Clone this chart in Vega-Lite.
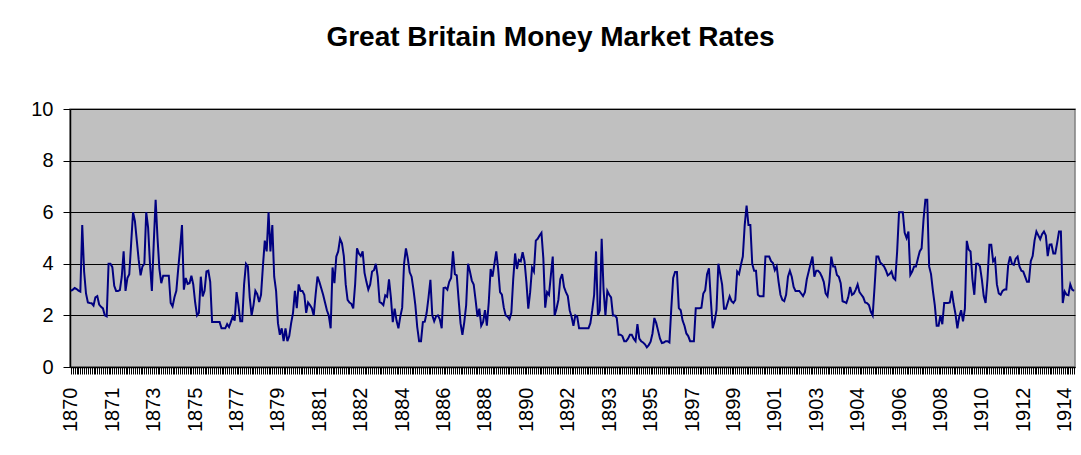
{
  "$schema": "https://vega.github.io/schema/vega-lite/v6.json",
  "autosize": {"type": "none"},
  "width": 1005,
  "height": 258,
  "padding": {"left": 70, "top": 109, "right": 6, "bottom": 88},
  "background": "#ffffff",
  "title": {
    "text": "Great Britain Money Market Rates",
    "font": "Liberation Sans",
    "fontSize": 28,
    "fontWeight": "bold",
    "color": "#000000",
    "anchor": "middle",
    "dx": -22,
    "offset": 47
  },
  "data": {
    "values": [
      {"m":"1870-01","r":2.95},{"m":"1870-02","r":3.0},{"m":"1870-03","r":3.06},{"m":"1870-04","r":3.02},{"m":"1870-05","r":2.96},{"m":"1870-06","r":2.92},{"m":"1870-07","r":5.5},{"m":"1870-08","r":3.7},{"m":"1870-09","r":2.85},{"m":"1870-10","r":2.5},{"m":"1870-11","r":2.48},{"m":"1870-12","r":2.47},
      {"m":"1871-01","r":2.38},{"m":"1871-02","r":2.7},{"m":"1871-03","r":2.75},{"m":"1871-04","r":2.42},{"m":"1871-05","r":2.33},{"m":"1871-06","r":2.27},{"m":"1871-07","r":2.0},{"m":"1871-08","r":1.96},{"m":"1871-09","r":4.0},{"m":"1871-10","r":4.0},{"m":"1871-11","r":3.87},{"m":"1871-12","r":3.15},
      {"m":"1872-01","r":2.95},{"m":"1872-02","r":2.95},{"m":"1872-03","r":2.98},{"m":"1872-04","r":3.5},{"m":"1872-05","r":4.48},{"m":"1872-06","r":2.95},{"m":"1872-07","r":3.45},{"m":"1872-08","r":3.6},{"m":"1872-09","r":4.8},{"m":"1872-10","r":6.0},{"m":"1872-11","r":5.65},{"m":"1872-12","r":4.9},
      {"m":"1873-01","r":4.15},{"m":"1873-02","r":3.55},{"m":"1873-03","r":3.9},{"m":"1873-04","r":4.0},{"m":"1873-05","r":6.0},{"m":"1873-06","r":5.4},{"m":"1873-07","r":4.0},{"m":"1873-08","r":2.95},{"m":"1873-09","r":4.8},{"m":"1873-10","r":6.48},{"m":"1873-11","r":5.0},{"m":"1873-12","r":3.8},
      {"m":"1874-01","r":3.25},{"m":"1874-02","r":3.54},{"m":"1874-03","r":3.54},{"m":"1874-04","r":3.54},{"m":"1874-05","r":3.54},{"m":"1874-06","r":2.48},{"m":"1874-07","r":2.35},{"m":"1874-08","r":2.7},{"m":"1874-09","r":2.95},{"m":"1874-10","r":3.8},{"m":"1874-11","r":4.6},{"m":"1874-12","r":5.5},
      {"m":"1875-01","r":3.0},{"m":"1875-02","r":3.45},{"m":"1875-03","r":3.22},{"m":"1875-04","r":3.25},{"m":"1875-05","r":3.54},{"m":"1875-06","r":3.2},{"m":"1875-07","r":2.5},{"m":"1875-08","r":2.0},{"m":"1875-09","r":2.1},{"m":"1875-10","r":3.5},{"m":"1875-11","r":2.74},{"m":"1875-12","r":2.95},
      {"m":"1876-01","r":3.7},{"m":"1876-02","r":3.73},{"m":"1876-03","r":3.3},{"m":"1876-04","r":1.74},{"m":"1876-05","r":1.74},{"m":"1876-06","r":1.74},{"m":"1876-07","r":1.74},{"m":"1876-08","r":1.74},{"m":"1876-09","r":1.5},{"m":"1876-10","r":1.5},{"m":"1876-11","r":1.5},{"m":"1876-12","r":1.66},
      {"m":"1877-01","r":1.55},{"m":"1877-02","r":1.75},{"m":"1877-03","r":1.96},{"m":"1877-04","r":1.8},{"m":"1877-05","r":2.9},{"m":"1877-06","r":2.4},{"m":"1877-07","r":1.77},{"m":"1877-08","r":1.77},{"m":"1877-09","r":3.2},{"m":"1877-10","r":4.0},{"m":"1877-11","r":3.9},{"m":"1877-12","r":2.7},
      {"m":"1878-01","r":2.0},{"m":"1878-02","r":2.4},{"m":"1878-03","r":2.95},{"m":"1878-04","r":2.82},{"m":"1878-05","r":2.52},{"m":"1878-06","r":2.8},{"m":"1878-07","r":3.9},{"m":"1878-08","r":4.9},{"m":"1878-09","r":4.48},{"m":"1878-10","r":6.0},{"m":"1878-11","r":4.48},{"m":"1878-12","r":5.5},
      {"m":"1879-01","r":3.5},{"m":"1879-02","r":2.95},{"m":"1879-03","r":1.7},{"m":"1879-04","r":1.25},{"m":"1879-05","r":1.5},{"m":"1879-06","r":1.0},{"m":"1879-07","r":1.5},{"m":"1879-08","r":1.0},{"m":"1879-09","r":1.2},{"m":"1879-10","r":1.7},{"m":"1879-11","r":2.1},{"m":"1879-12","r":2.95},
      {"m":"1880-01","r":2.28},{"m":"1880-02","r":3.2},{"m":"1880-03","r":2.95},{"m":"1880-04","r":2.95},{"m":"1880-05","r":2.8},{"m":"1880-06","r":2.1},{"m":"1880-07","r":2.5},{"m":"1880-08","r":2.4},{"m":"1880-09","r":2.28},{"m":"1880-10","r":2.0},{"m":"1880-11","r":2.8},{"m":"1880-12","r":3.5},
      {"m":"1881-01","r":3.3},{"m":"1881-02","r":3.05},{"m":"1881-03","r":2.8},{"m":"1881-04","r":2.5},{"m":"1881-05","r":2.2},{"m":"1881-06","r":2.0},{"m":"1881-07","r":1.5},{"m":"1881-08","r":3.86},{"m":"1881-09","r":3.25},{"m":"1881-10","r":4.28},{"m":"1881-11","r":4.48},{"m":"1881-12","r":4.97},
      {"m":"1882-01","r":4.8},{"m":"1882-02","r":4.3},{"m":"1882-03","r":3.2},{"m":"1882-04","r":2.6},{"m":"1882-05","r":2.5},{"m":"1882-06","r":2.45},{"m":"1882-07","r":2.27},{"m":"1882-08","r":3.2},{"m":"1882-09","r":4.6},{"m":"1882-10","r":4.4},{"m":"1882-11","r":4.3},{"m":"1882-12","r":4.48},
      {"m":"1883-01","r":3.65},{"m":"1883-02","r":3.3},{"m":"1883-03","r":3.0},{"m":"1883-04","r":3.2},{"m":"1883-05","r":3.7},{"m":"1883-06","r":3.75},{"m":"1883-07","r":4.0},{"m":"1883-08","r":3.5},{"m":"1883-09","r":2.52},{"m":"1883-10","r":2.48},{"m":"1883-11","r":2.4},{"m":"1883-12","r":2.78},
      {"m":"1884-01","r":2.72},{"m":"1884-02","r":3.4},{"m":"1884-03","r":2.7},{"m":"1884-04","r":1.74},{"m":"1884-05","r":2.26},{"m":"1884-06","r":1.8},{"m":"1884-07","r":1.5},{"m":"1884-08","r":1.95},{"m":"1884-09","r":2.3},{"m":"1884-10","r":4.0},{"m":"1884-11","r":4.6},{"m":"1884-12","r":4.2},
      {"m":"1885-01","r":3.67},{"m":"1885-02","r":3.5},{"m":"1885-03","r":3.0},{"m":"1885-04","r":2.4},{"m":"1885-05","r":1.55},{"m":"1885-06","r":1.0},{"m":"1885-07","r":1.0},{"m":"1885-08","r":1.74},{"m":"1885-09","r":1.76},{"m":"1885-10","r":2.1},{"m":"1885-11","r":2.7},{"m":"1885-12","r":3.38},
      {"m":"1886-01","r":2.0},{"m":"1886-02","r":1.77},{"m":"1886-03","r":1.96},{"m":"1886-04","r":2.0},{"m":"1886-05","r":1.85},{"m":"1886-06","r":1.5},{"m":"1886-07","r":3.06},{"m":"1886-08","r":3.08},{"m":"1886-09","r":3.0},{"m":"1886-10","r":3.3},{"m":"1886-11","r":3.45},{"m":"1886-12","r":4.48},
      {"m":"1887-01","r":3.6},{"m":"1887-02","r":3.55},{"m":"1887-03","r":2.6},{"m":"1887-04","r":1.7},{"m":"1887-05","r":1.25},{"m":"1887-06","r":1.74},{"m":"1887-07","r":2.4},{"m":"1887-08","r":4.0},{"m":"1887-09","r":3.7},{"m":"1887-10","r":3.35},{"m":"1887-11","r":3.2},{"m":"1887-12","r":2.6},
      {"m":"1888-01","r":1.95},{"m":"1888-02","r":2.26},{"m":"1888-03","r":1.6},{"m":"1888-04","r":1.75},{"m":"1888-05","r":2.2},{"m":"1888-06","r":1.6},{"m":"1888-07","r":2.5},{"m":"1888-08","r":3.8},{"m":"1888-09","r":3.5},{"m":"1888-10","r":4.0},{"m":"1888-11","r":4.48},{"m":"1888-12","r":3.8},
      {"m":"1889-01","r":2.9},{"m":"1889-02","r":2.8},{"m":"1889-03","r":2.3},{"m":"1889-04","r":2.0},{"m":"1889-05","r":1.95},{"m":"1889-06","r":1.85},{"m":"1889-07","r":2.1},{"m":"1889-08","r":3.4},{"m":"1889-09","r":4.4},{"m":"1889-10","r":3.8},{"m":"1889-11","r":4.15},{"m":"1889-12","r":4.1},
      {"m":"1890-01","r":4.45},{"m":"1890-02","r":4.1},{"m":"1890-03","r":3.3},{"m":"1890-04","r":2.26},{"m":"1890-05","r":2.9},{"m":"1890-06","r":3.85},{"m":"1890-07","r":3.7},{"m":"1890-08","r":4.9},{"m":"1890-09","r":4.97},{"m":"1890-10","r":5.1},{"m":"1890-11","r":5.2},{"m":"1890-12","r":4.22},
      {"m":"1891-01","r":2.3},{"m":"1891-02","r":2.9},{"m":"1891-03","r":2.8},{"m":"1891-04","r":3.55},{"m":"1891-05","r":4.28},{"m":"1891-06","r":2.0},{"m":"1891-07","r":2.26},{"m":"1891-08","r":2.6},{"m":"1891-09","r":3.4},{"m":"1891-10","r":3.6},{"m":"1891-11","r":3.1},{"m":"1891-12","r":2.9},
      {"m":"1892-01","r":2.75},{"m":"1892-02","r":2.2},{"m":"1892-03","r":1.95},{"m":"1892-04","r":1.6},{"m":"1892-05","r":2.0},{"m":"1892-06","r":1.95},{"m":"1892-07","r":1.5},{"m":"1892-08","r":1.5},{"m":"1892-09","r":1.5},{"m":"1892-10","r":1.5},{"m":"1892-11","r":1.5},{"m":"1892-12","r":1.5},
      {"m":"1893-01","r":1.7},{"m":"1893-02","r":2.2},{"m":"1893-03","r":2.8},{"m":"1893-04","r":4.48},{"m":"1893-05","r":2.0},{"m":"1893-06","r":2.2},{"m":"1893-07","r":4.97},{"m":"1893-08","r":3.0},{"m":"1893-09","r":2.0},{"m":"1893-10","r":2.95},{"m":"1893-11","r":2.8},{"m":"1893-12","r":2.7},
      {"m":"1894-01","r":2.0},{"m":"1894-02","r":2.0},{"m":"1894-03","r":1.9},{"m":"1894-04","r":1.25},{"m":"1894-05","r":1.25},{"m":"1894-06","r":1.2},{"m":"1894-07","r":1.0},{"m":"1894-08","r":1.0},{"m":"1894-09","r":1.1},{"m":"1894-10","r":1.25},{"m":"1894-11","r":1.25},{"m":"1894-12","r":1.1},
      {"m":"1895-01","r":1.0},{"m":"1895-02","r":1.66},{"m":"1895-03","r":1.1},{"m":"1895-04","r":1.0},{"m":"1895-05","r":0.95},{"m":"1895-06","r":0.88},{"m":"1895-07","r":0.76},{"m":"1895-08","r":0.85},{"m":"1895-09","r":0.98},{"m":"1895-10","r":1.3},{"m":"1895-11","r":1.9},{"m":"1895-12","r":1.7},
      {"m":"1896-01","r":1.4},{"m":"1896-02","r":1.1},{"m":"1896-03","r":0.93},{"m":"1896-04","r":0.95},{"m":"1896-05","r":1.0},{"m":"1896-06","r":1.0},{"m":"1896-07","r":0.95},{"m":"1896-08","r":2.28},{"m":"1896-09","r":3.45},{"m":"1896-10","r":3.68},{"m":"1896-11","r":3.68},{"m":"1896-12","r":2.28},
      {"m":"1897-01","r":2.2},{"m":"1897-02","r":1.8},{"m":"1897-03","r":1.6},{"m":"1897-04","r":1.3},{"m":"1897-05","r":1.2},{"m":"1897-06","r":1.0},{"m":"1897-07","r":1.0},{"m":"1897-08","r":1.0},{"m":"1897-09","r":2.28},{"m":"1897-10","r":2.28},{"m":"1897-11","r":2.28},{"m":"1897-12","r":2.3},
      {"m":"1898-01","r":2.85},{"m":"1898-02","r":2.97},{"m":"1898-03","r":3.6},{"m":"1898-04","r":3.83},{"m":"1898-05","r":2.6},{"m":"1898-06","r":1.5},{"m":"1898-07","r":1.77},{"m":"1898-08","r":2.2},{"m":"1898-09","r":4.0},{"m":"1898-10","r":3.6},{"m":"1898-11","r":3.19},{"m":"1898-12","r":2.26},
      {"m":"1899-01","r":2.26},{"m":"1899-02","r":2.5},{"m":"1899-03","r":2.74},{"m":"1899-04","r":2.55},{"m":"1899-05","r":2.48},{"m":"1899-06","r":2.6},{"m":"1899-07","r":3.7},{"m":"1899-08","r":3.6},{"m":"1899-09","r":3.96},{"m":"1899-10","r":4.28},{"m":"1899-11","r":5.5},{"m":"1899-12","r":6.26},
      {"m":"1900-01","r":5.5},{"m":"1900-02","r":5.5},{"m":"1900-03","r":4.0},{"m":"1900-04","r":3.73},{"m":"1900-05","r":3.73},{"m":"1900-06","r":2.8},{"m":"1900-07","r":2.74},{"m":"1900-08","r":2.74},{"m":"1900-09","r":2.74},{"m":"1900-10","r":4.28},{"m":"1900-11","r":4.28},{"m":"1900-12","r":4.28},
      {"m":"1901-01","r":4.1},{"m":"1901-02","r":4.03},{"m":"1901-03","r":3.75},{"m":"1901-04","r":3.9},{"m":"1901-05","r":3.3},{"m":"1901-06","r":2.8},{"m":"1901-07","r":2.6},{"m":"1901-08","r":2.55},{"m":"1901-09","r":2.8},{"m":"1901-10","r":3.5},{"m":"1901-11","r":3.73},{"m":"1901-12","r":3.5},
      {"m":"1902-01","r":3.1},{"m":"1902-02","r":2.95},{"m":"1902-03","r":2.95},{"m":"1902-04","r":2.95},{"m":"1902-05","r":2.85},{"m":"1902-06","r":2.75},{"m":"1902-07","r":2.9},{"m":"1902-08","r":3.4},{"m":"1902-09","r":3.7},{"m":"1902-10","r":4.0},{"m":"1902-11","r":4.28},{"m":"1902-12","r":3.5},
      {"m":"1903-01","r":3.73},{"m":"1903-02","r":3.73},{"m":"1903-03","r":3.65},{"m":"1903-04","r":3.5},{"m":"1903-05","r":3.3},{"m":"1903-06","r":2.85},{"m":"1903-07","r":2.74},{"m":"1903-08","r":3.3},{"m":"1903-09","r":4.28},{"m":"1903-10","r":3.9},{"m":"1903-11","r":3.9},{"m":"1903-12","r":3.57},
      {"m":"1904-01","r":3.5},{"m":"1904-02","r":3.25},{"m":"1904-03","r":2.55},{"m":"1904-04","r":2.52},{"m":"1904-05","r":2.48},{"m":"1904-06","r":2.7},{"m":"1904-07","r":3.1},{"m":"1904-08","r":2.8},{"m":"1904-09","r":2.85},{"m":"1904-10","r":3.0},{"m":"1904-11","r":3.2},{"m":"1904-12","r":2.9},
      {"m":"1905-01","r":2.8},{"m":"1905-02","r":2.7},{"m":"1905-03","r":2.5},{"m":"1905-04","r":2.48},{"m":"1905-05","r":2.4},{"m":"1905-06","r":2.15},{"m":"1905-07","r":2.0},{"m":"1905-08","r":3.1},{"m":"1905-09","r":4.28},{"m":"1905-10","r":4.28},{"m":"1905-11","r":4.05},{"m":"1905-12","r":3.98},
      {"m":"1906-01","r":3.9},{"m":"1906-02","r":3.75},{"m":"1906-03","r":3.55},{"m":"1906-04","r":3.6},{"m":"1906-05","r":3.7},{"m":"1906-06","r":3.45},{"m":"1906-07","r":3.38},{"m":"1906-08","r":4.48},{"m":"1906-09","r":6.0},{"m":"1906-10","r":6.0},{"m":"1906-11","r":6.0},{"m":"1906-12","r":5.2},
      {"m":"1907-01","r":5.0},{"m":"1907-02","r":5.25},{"m":"1907-03","r":3.57},{"m":"1907-04","r":3.7},{"m":"1907-05","r":3.9},{"m":"1907-06","r":3.9},{"m":"1907-07","r":4.2},{"m":"1907-08","r":4.48},{"m":"1907-09","r":4.6},{"m":"1907-10","r":5.7},{"m":"1907-11","r":6.48},{"m":"1907-12","r":6.48},
      {"m":"1908-01","r":3.9},{"m":"1908-02","r":3.6},{"m":"1908-03","r":2.95},{"m":"1908-04","r":2.4},{"m":"1908-05","r":1.6},{"m":"1908-06","r":1.6},{"m":"1908-07","r":2.0},{"m":"1908-08","r":1.66},{"m":"1908-09","r":2.48},{"m":"1908-10","r":2.48},{"m":"1908-11","r":2.48},{"m":"1908-12","r":2.5},
      {"m":"1909-01","r":2.95},{"m":"1909-02","r":2.45},{"m":"1909-03","r":2.05},{"m":"1909-04","r":1.5},{"m":"1909-05","r":1.95},{"m":"1909-06","r":2.2},{"m":"1909-07","r":1.77},{"m":"1909-08","r":2.26},{"m":"1909-09","r":4.89},{"m":"1909-10","r":4.55},{"m":"1909-11","r":4.48},{"m":"1909-12","r":3.4},
      {"m":"1910-01","r":2.8},{"m":"1910-02","r":4.0},{"m":"1910-03","r":4.0},{"m":"1910-04","r":3.9},{"m":"1910-05","r":3.4},{"m":"1910-06","r":2.75},{"m":"1910-07","r":2.48},{"m":"1910-08","r":3.4},{"m":"1910-09","r":4.74},{"m":"1910-10","r":4.74},{"m":"1910-11","r":4.1},{"m":"1910-12","r":4.2},
      {"m":"1911-01","r":3.2},{"m":"1911-02","r":2.85},{"m":"1911-03","r":2.8},{"m":"1911-04","r":2.95},{"m":"1911-05","r":3.0},{"m":"1911-06","r":3.0},{"m":"1911-07","r":3.96},{"m":"1911-08","r":4.28},{"m":"1911-09","r":4.0},{"m":"1911-10","r":3.96},{"m":"1911-11","r":4.2},{"m":"1911-12","r":4.28},
      {"m":"1912-01","r":3.9},{"m":"1912-02","r":3.73},{"m":"1912-03","r":3.7},{"m":"1912-04","r":3.5},{"m":"1912-05","r":3.3},{"m":"1912-06","r":3.3},{"m":"1912-07","r":4.1},{"m":"1912-08","r":4.3},{"m":"1912-09","r":4.9},{"m":"1912-10","r":5.25},{"m":"1912-11","r":5.1},{"m":"1912-12","r":4.95},
      {"m":"1913-01","r":5.15},{"m":"1913-02","r":5.25},{"m":"1913-03","r":5.1},{"m":"1913-04","r":4.3},{"m":"1913-05","r":4.74},{"m":"1913-06","r":4.75},{"m":"1913-07","r":4.4},{"m":"1913-08","r":4.4},{"m":"1913-09","r":4.8},{"m":"1913-10","r":5.25},{"m":"1913-11","r":5.25},{"m":"1913-12","r":2.48},
      {"m":"1914-01","r":2.93},{"m":"1914-02","r":2.8},{"m":"1914-03","r":2.78},{"m":"1914-04","r":3.2},{"m":"1914-05","r":3.0},{"m":"1914-06","r":2.95}
    ]
  },
  "mark": {"type": "line", "color": "#000080", "strokeWidth": 2, "interpolate": "linear"},
  "encoding": {
    "x": {
      "field": "m",
      "type": "ordinal",
      "sort": null,
      "axis": {
        "title": null,
        "labelExpr": "((toNumber(slice(datum.value,0,4))-1870)*12 + toNumber(slice(datum.value,5,7)) - 1) % 22 == 0 ? slice(datum.value,0,4) : ''",
        "labelAngle": -90,
        "labelFont": "Liberation Sans",
        "labelFontSize": 20,
        "labelColor": "#000000",
        "labelPadding": 13,
        "labelOverlap": false,
        "tickSize": 7,
        "tickColor": "#000000",
        "tickWidth": 1,
        "domainColor": "#000000",
        "domainWidth": 1.5,
        "grid": false
      }
    },
    "y": {
      "field": "r",
      "type": "quantitative",
      "scale": {"domain": [0, 10], "nice": false, "zero": true},
      "axis": {
        "title": null,
        "values": [0, 2, 4, 6, 8, 10],
        "labelFont": "Liberation Sans",
        "labelFontSize": 20,
        "labelColor": "#000000",
        "labelPadding": 10,
        "tickSize": 7,
        "tickColor": "#000000",
        "domainColor": "#000000",
        "domainWidth": 1.5,
        "grid": true,
        "gridColor": "#000000",
        "gridOpacity": 1,
        "gridWidth": 1
      }
    }
  },
  "config": {
    "view": {"fill": "#C0C0C0", "stroke": "#808080", "strokeWidth": 1.5},
    "scale": {"pointPadding": 0.5}
  }
}
